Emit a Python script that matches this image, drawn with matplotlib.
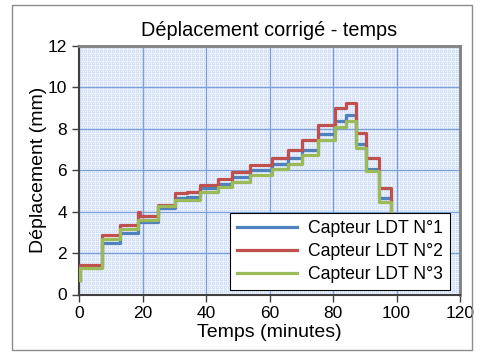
import matplotlib
matplotlib.use("Agg")
import matplotlib.pyplot as plt
from matplotlib.patches import Rectangle
import numpy as np

# step data (time in minutes, displacement in mm)
time = [0.3, 0.3, 7.1, 12.9, 18.7, 19.3, 25.0, 30.2, 34.0, 38.1, 43.9, 48.1,
        53.9, 60.7, 65.9, 70.1, 75.4, 80.6, 84.0, 87.4, 90.5, 94.6, 98.3]
ldt1 = [0.7, 1.35, 2.5, 2.95, 3.5, 3.5, 4.2, 4.64, 4.71, 5.12, 5.36, 5.68,
        6.0, 6.3, 6.6, 7.0, 7.75, 8.4, 8.65, 7.25, 6.05, 4.68, 3.7]
ldt2 = [0.7, 1.42, 2.87, 3.38, 4.0, 3.78, 4.31, 4.9, 4.95, 5.31, 5.6, 5.92,
        6.24, 6.6, 7.0, 7.47, 8.2, 9.0, 9.25, 7.78, 6.58, 5.12, 3.7]
ldt3 = [0.7, 1.3, 2.66, 3.14, 3.62, 3.62, 4.25, 4.55, 4.55, 4.95, 5.2, 5.44,
        5.75, 6.08, 6.32, 6.72, 7.45, 8.1, 8.38, 7.07, 5.94, 4.45, 3.7]
labels = ["Capteur LDT N°1", "Capteur LDT N°2", "Capteur LDT N°3"]
colors = ["#4F81BD", "#C0504D", "#9BBB59"]

plt.rcParams["font.family"] = ["Liberation Sans", "DejaVu Sans"]

fig = plt.figure(figsize=(4.84, 3.6), dpi=100)
ax = fig.add_axes([79 / 484, 1 - 294.5 / 360, 381 / 484, 248.5 / 360])

# outer chart border
fig.patches.append(Rectangle((12 / 484, 10 / 360), 460 / 484, 345 / 360,
                             transform=fig.transFigure, fill=False,
                             edgecolor="#8c8c8c", lw=1))

# patterned plot area (small blue grid)
h, w = 249, 381
tex = np.empty((h, w, 3))
tex[:] = (0.82, 0.88, 0.97)
tex[::4, :] = (0.93, 0.95, 0.99)
tex[:, ::4] = (0.93, 0.95, 0.99)
tex[2::4, 2::4] = (1.0, 1.0, 1.0)
ax.imshow(tex, extent=[0, 1, 0, 1], transform=ax.transAxes, aspect="auto",
          interpolation="nearest", zorder=0)

for vals, lab, col in zip([ldt1, ldt2, ldt3], labels, colors):
    ax.plot(time, vals, drawstyle="steps-post", color=col, lw=2.3, label=lab,
            zorder=3)

ax.set_xlim(0, 120)
ax.set_ylim(0, 12)
ax.set_xticks(range(0, 121, 20))
ax.set_yticks(range(0, 13, 2))
ax.grid(True, color="#7ba0d8", lw=0.9)
ax.set_axisbelow(True)
ax.tick_params(labelsize=12.5, direction="out", length=5, width=1,
               color="#404040")

for s in ["left", "bottom"]:
    ax.spines[s].set_color("#404040")
    ax.spines[s].set_linewidth(1.5)
for s in ["top", "right"]:
    ax.spines[s].set_color("#808080")
    ax.spines[s].set_linewidth(2)

ax.set_title("Déplacement corrigé - temps", fontsize=14.3, pad=7)
ax.set_xlabel("Temps (minutes)", fontsize=14, labelpad=2)
ax.set_ylabel("Déplacement (mm)", fontsize=14, labelpad=0.5)

leg = ax.legend(loc="lower right", bbox_to_anchor=(0.974, 0.018), fontsize=12.7,
                frameon=True, fancybox=False, framealpha=1, edgecolor="black",
                handlelength=3.4, handletextpad=0.6, labelspacing=0.33,
                borderpad=0.4, borderaxespad=0)
leg.get_frame().set_linewidth(0.8)

fig.savefig("out.png", dpi=100)
